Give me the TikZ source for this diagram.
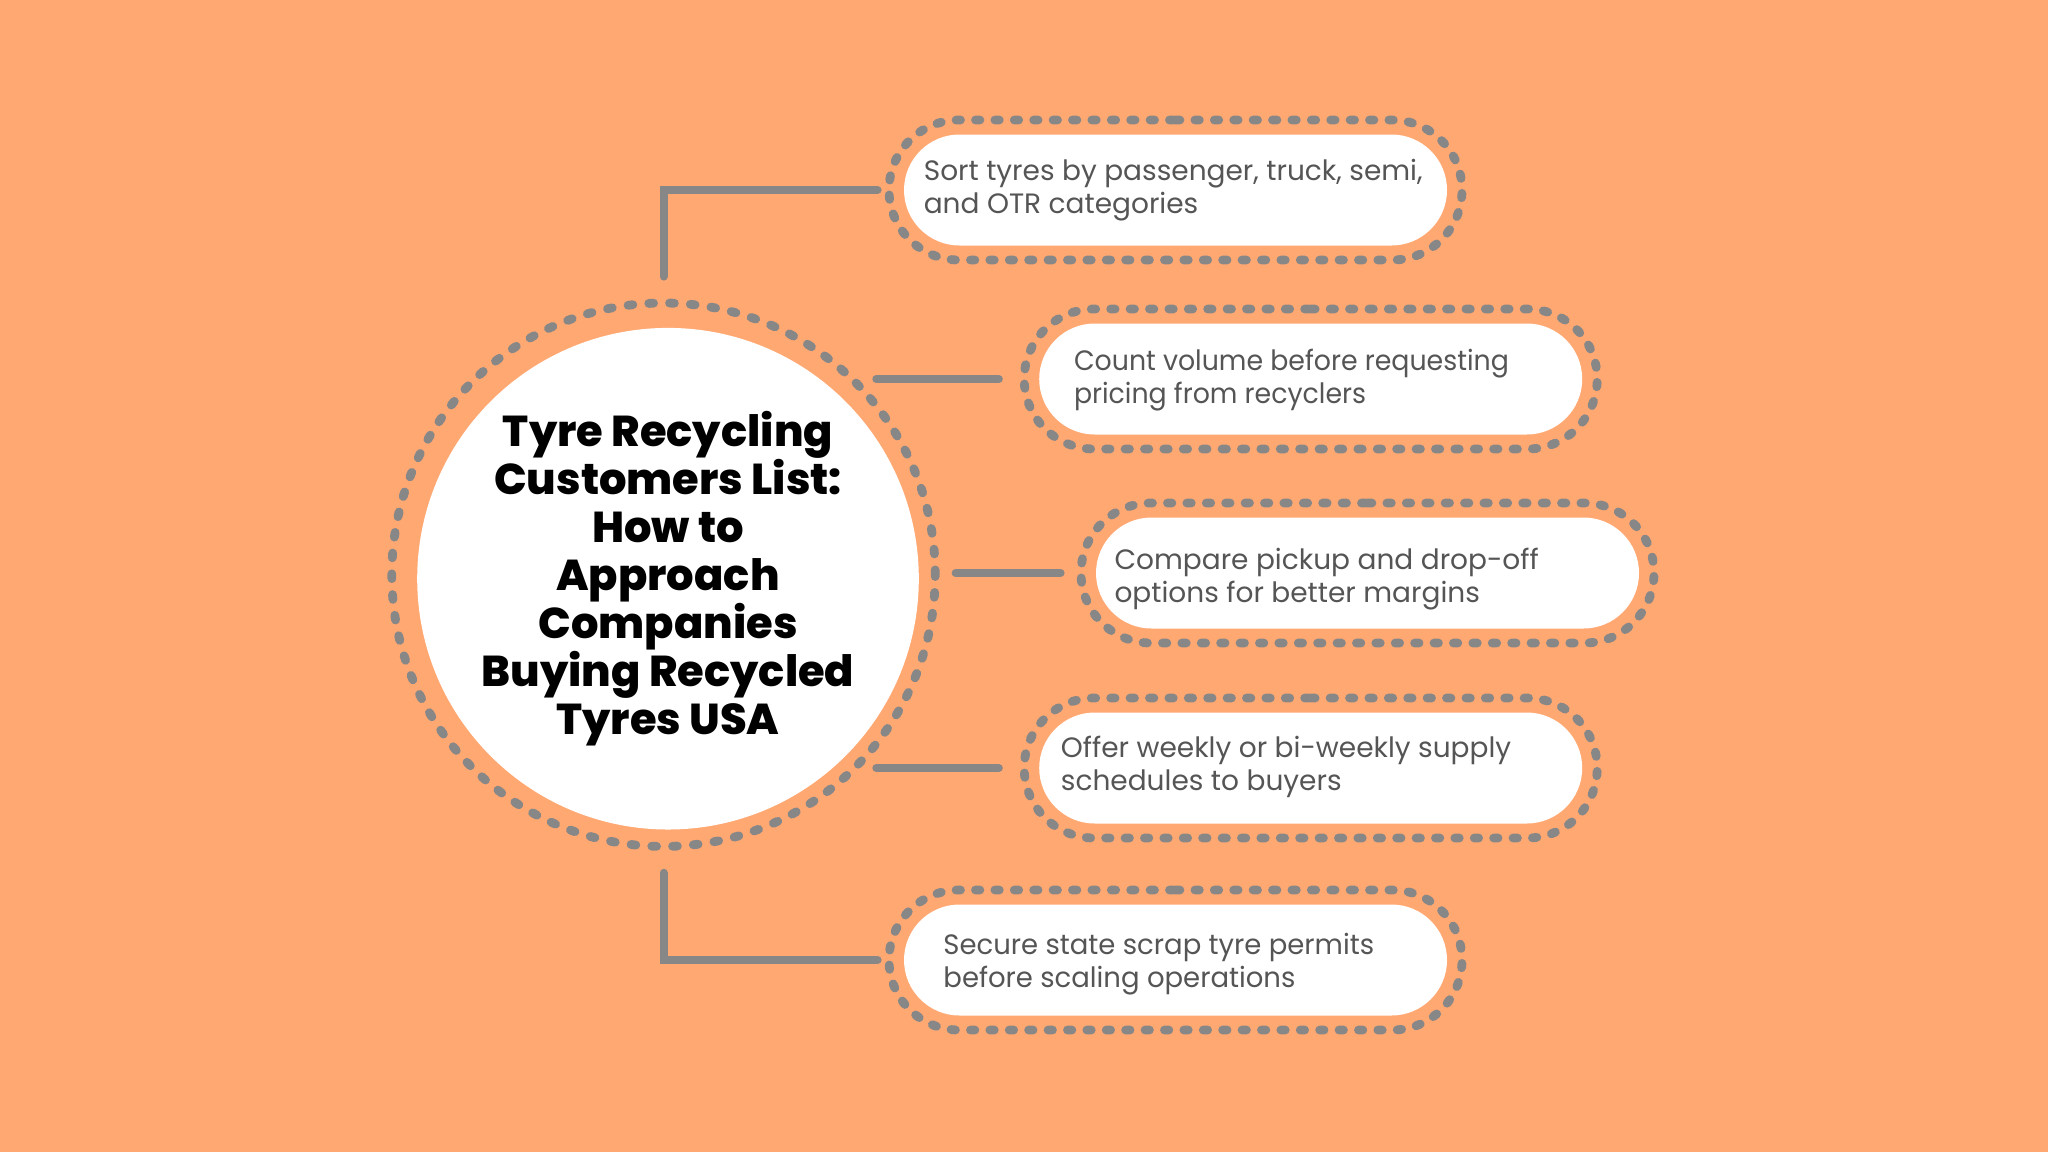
\documentclass[tikz,border=0pt]{standalone}
\usepackage{fontspec}
\setmainfont{Poppins}
\newfontfamily\titlefont{Poppins ExtraBold}
\newfontfamily\narrowA[FakeStretch=0.957]{Poppins}
\newfontfamily\narrowB[FakeStretch=0.982]{Poppins}
\usetikzlibrary{shapes.misc,calc}
\definecolor{bg}{HTML}{FFA872}
\definecolor{dotgray}{HTML}{878787}
\definecolor{txtgray}{HTML}{555555}
\begin{document}
\begin{tikzpicture}[x=0.5pt,y=-0.5pt,
 ring/.style={circle, draw=dotgray, line width=4.4pt, dash pattern=on 2.4pt off 8pt, line cap=round, minimum size=271.7pt, inner sep=0pt},
 core/.style={circle, fill=white, minimum size=250.8pt, inner sep=0pt, font=\titlefont\fontsize{21.6}{24}\selectfont, align=center, text=black},
 pillout/.style={rounded rectangle, draw=dotgray, line width=4.4pt, dash pattern=on 2.2pt off 7.5pt, line cap=round, minimum width=286.5pt, minimum height=70pt, inner sep=0pt},
 pill/.style={rounded rectangle, fill=white, minimum width=271.5pt, minimum height=55.5pt, inner sep=0pt},
 itemtext/.style={anchor=west, align=left, text=txtgray, font=\fontsize{14}{16.3}\selectfont, inner sep=0pt},
 conn/.style={draw=dotgray, line width=4pt, line cap=round}]
\useasboundingbox (0,0) rectangle (2048,1152);
\fill[bg] (0,0) rectangle (2048,1152);
% central circle
\node[ring] (cr) at (663.5,574.7) {};
\node[core] (c) at (668,578.7) {Tyre Recycling\\Customers List:\\How to\\Approach\\Companies\\Buying Recycled\\Tyres USA};
% pills
\node[pillout] (o1) at (1175.5,190) {};
\node[pill] (p1) at (1175.5,190) {};
\node[itemtext] (t1) at (923.4,190) {Sort tyres by passenger, truck, semi,\\and OTR categories};
\node[pillout] (o2) at (1310.7,379) {};
\node[pill] (p2) at (1310.7,379) {};
\node[itemtext, font=\narrowA\fontsize{14}{16.3}\selectfont] (t2) at (1073.6,380) {Count volume before requesting\\pricing from recyclers};
\node[pillout] (o3) at (1367.5,573) {};
\node[pill] (p3) at (1367.5,573) {};
\node[itemtext] (t3) at (1114.1,579) {Compare pickup and drop-off\\options for better margins};
\node[pillout] (o4) at (1310.7,768) {};
\node[pill] (p4) at (1310.7,768) {};
\node[itemtext] (t4) at (1060.5,767) {Offer weekly or bi-weekly supply\\schedules to buyers};
\node[pillout] (o5) at (1175.5,960) {};
\node[pill] (p5) at (1175.5,960) {};
\node[itemtext, font=\narrowB\fontsize{14}{16.3}\selectfont] (t5) at (943,964) {Secure state scrap tyre permits\\before scaling operations};
% connectors
\draw[conn] ([yshift=11pt]cr.north) |- ([xshift=-3.5pt]o1.west);
\draw[conn] ($(cr.46 |- o2.west)+(21,0)$) -- ([xshift=-10.5pt]o2.west);
\draw[conn] ($(cr.east |- o3.west)+(16,0)$) -- ([xshift=-8pt]o3.west);
\draw[conn] ($(cr.-46 |- o4.west)+(21,0)$) -- ([xshift=-10.5pt]o4.west);
\draw[conn] ([yshift=-11pt]cr.south) |- ([xshift=-3.5pt]o5.west);
\end{tikzpicture}
\end{document}
